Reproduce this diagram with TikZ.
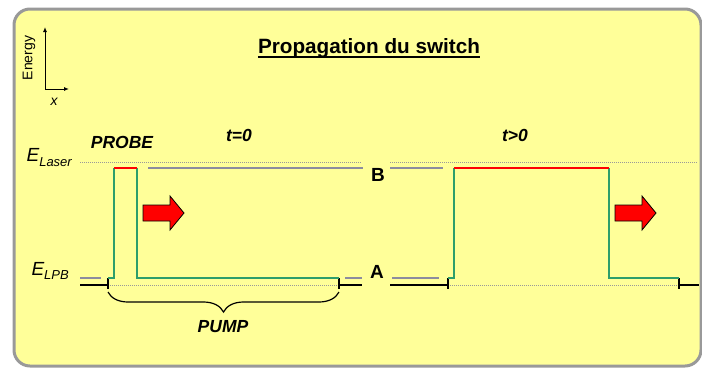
\documentclass[tikz,border=0pt]{standalone}
\usepackage{fontspec}
\setmainfont{Liberation Sans}
\usetikzlibrary{arrows.meta,decorations.pathreplacing}
\definecolor{panelfill}{HTML}{FFFF99}
\definecolor{framegray}{HTML}{999999}
\definecolor{levelgray}{HTML}{8C8C9E}
\definecolor{lpbgreen}{HTML}{2E9E6B}
\tikzset{
  level/.style={draw=levelgray,line width=1.2pt},
  guide/.style={draw=framegray,line width=1pt,dash pattern=on 1pt off 1pt},
  ground/.style={draw=black,line width=1.5pt},
  lpb/.style={draw=lpbgreen,line width=2pt},
  probe/.style={draw=red,line width=2pt},
  push/.style={draw=black,fill=red,line width=0.8pt,line join=miter},
  tag/.style={font=\fontsize{17.5}{20}\selectfont\bfseries\itshape,inner sep=0pt},
  state/.style={font=\fontsize{19}{22}\selectfont\bfseries,inner sep=0pt},
  elabel/.style={font=\fontsize{19}{22}\selectfont\itshape,inner sep=0pt,anchor=base east}
}
\begin{document}
\begin{tikzpicture}[x=1pt,y=-1pt]
\useasboundingbox (0,0) rectangle (702,368);
\clip (0,0) rectangle (702,368);
\draw[draw=framegray,fill=panelfill,line width=3pt,rounded corners=16pt] (14,9) rectangle (701,366);
\coordinate (origin) at (45,89);
\draw[line width=1pt,-{Latex[length=5pt,width=4pt]}] (origin) -- ++(0,-62);
\draw[line width=1pt,-{Latex[length=5pt,width=4pt]}] (origin) -- ++(24,0);
\node[rotate=90,font=\fontsize{14}{16}\selectfont,inner sep=0pt] (energy) at (29,58) {Energy};
\node[font=\fontsize{14}{16}\selectfont\itshape,inner sep=0pt] (xaxis) at (54,102) {x};
\node[font=\fontsize{20.7}{24}\selectfont\bfseries,inner sep=0pt,anchor=base] (title) at (369,53) {Propagation du switch};
\draw[line width=2pt] ([yshift=-3.5pt]title.base west) -- ([yshift=-3.5pt]title.base east);
\node[tag] (probelabel) at (122,142) {PROBE};
\node[tag] (tzero) at (239,135) {t=0};
\node[tag] (tlater) at (515,135) {t>0};
\node[elabel] (elaser) at (72,161) {E\raisebox{-5pt}{\fontsize{13}{14}\selectfont Laser}};
\node[elabel] (elpb) at (69,275) {E\raisebox{-4pt}{\fontsize{13}{14}\selectfont LPB}};
\node[state] (B) at (378,175) {B};
\node[state] (A) at (377,272) {A};
\draw[guide] (80,162) -- (362,162);
\draw[guide] (390,162) -- (697,162);
\draw[guide] (108,285) -- (339,285);
\draw[guide] (448,285) -- (679,285);
\draw[level] (80,278) -- (101,278);
\draw[level] (345,278) -- (362,278);
\draw[level] (392,278) -- (439,278);
\draw[level] (148,168) -- (363,168);
\draw[level] (390,168) -- (443,168);
\draw[ground] (80,285) -- (108,285);
\draw[ground] (108,278) -- (108,289);
\draw[ground] (339,278) -- (339,289);
\draw[ground] (339,285) -- (362,285);
\draw[ground] (390,285) -- (448,285);
\draw[ground] (448,278) -- (448,289);
\draw[ground] (679,278) -- (679,289);
\draw[ground] (679,285) -- (699,285);
\draw[lpb] (108,278) -- (114,278) -- (114,168);
\draw[lpb] (137,168) -- (137,278) -- (339,278);
\draw[probe] (114,168) -- (137,168);
\draw[lpb] (448,278) -- (454,278) -- (454,168);
\draw[lpb] (609,168) -- (609,278) -- (679,278);
\draw[probe] (454,168) -- (609,168);
\draw[push] (143,205) -- (170,205) -- (170,196) -- (184,213) -- (170,230) -- (170,221) -- (143,221) -- cycle;
\draw[push] (615,205) -- (642,205) -- (642,196) -- (656,213) -- (642,230) -- (642,221) -- (615,221) -- cycle;
\draw[line width=1.2pt,decorate,decoration={brace,mirror,amplitude=20pt}] (108,292) -- (339,292);
\node[tag] (pumplabel) at (223,327) {PUMP};
\end{tikzpicture}
\end{document}
